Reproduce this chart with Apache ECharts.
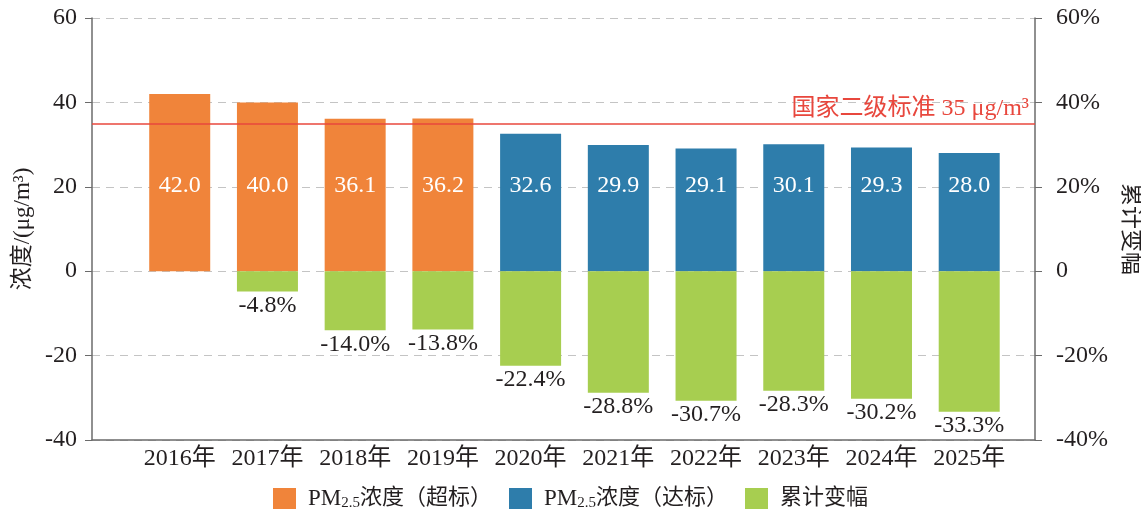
<!DOCTYPE html>
<html>
<head>
<meta charset="utf-8">
<script src="https://cdn.jsdelivr.net/npm/echarts@6/dist/echarts.min.js"></script>
<style>
  html, body { margin: 0; padding: 0; background: #fff; }
  #main { width: 1141px; height: 512px; }
</style>
</head>
<body>
<div id="main"></div>
<script>
// 年份与数据
var years = ['2016年', '2017年', '2018年', '2019年', '2020年', '2021年', '2022年', '2023年', '2024年', '2025年'];
var pm25 = [42.0, 40.0, 36.1, 36.2, 32.6, 29.9, 29.1, 30.1, 29.3, 28.0];
var change = [null, -4.8, -14.0, -13.8, -22.4, -28.8, -30.7, -28.3, -30.2, -33.3];
var standard = 35;
var leftTicks = [-40, 60, 20];   // min, max, interval
var rightTicks = [-40, 60, 20];

var FONT = "'Liberation Serif', 'Noto Sans CJK SC', serif";
var TEXT = '#231f20';
var AXIS = '#6b6b6b';

var myChart = echarts.init(document.getElementById('main'));

var overData = pm25.map(function (v, i) { return v > standard ? [i, v] : [i, null]; });
var okData = pm25.map(function (v, i) { return v > standard ? [i, null] : [i, v]; });
var changeData = change.map(function (v, i) { return [i, v]; });

var option = {
    animation: false,
    textStyle: { fontFamily: FONT },
    grid: { left: 92, right: 106, top: 18, bottom: 72, containLabel: false, outerBoundsMode: 'none' },
    legend: {
        left: 'center',
        top: 482,
        itemWidth: 23,
        itemHeight: 21,
        itemGap: 17,
        icon: 'rect',
        textStyle: {
            fontFamily: FONT, fontSize: 22, color: TEXT,
            rich: {
                a: { fontFamily: FONT, fontSize: 23, color: TEXT, padding: [0, 0, 0, 7] },
                s: { fontFamily: FONT, fontSize: 15, color: TEXT, padding: [10, 0, 0, 0] },
                c: { fontFamily: FONT, fontSize: 22, color: TEXT },
                d: { fontFamily: FONT, fontSize: 22, color: TEXT, padding: [0, 0, 0, 7] }
            }
        },
        formatter: function (name) {
            if (name.indexOf('PM2.5') === 0) {
                return '{a|PM}{s|2.5}{c|' + name.slice(5) + '}';
            }
            return '{d|' + name + '}';
        }
    },
    xAxis: {
        type: 'value',
        min: -1,
        max: 9.75,
        interval: 1,
        splitLine: { show: false },
        axisTick: { show: false },
        axisLine: { show: true, onZero: false, lineStyle: { color: AXIS, width: 1.5 } },
        axisLabel: {
            fontFamily: FONT, fontSize: 24, color: TEXT, margin: 7,
            showMinLabel: true, showMaxLabel: true,
            formatter: function (v) {
                var i = Math.round(v);
                return (Math.abs(v - i) < 1e-6 && i >= 0 && i < years.length) ? years[i] : '';
            }
        }
    },
    yAxis: [
        {
            type: 'value',
            min: leftTicks[0], max: leftTicks[1], interval: leftTicks[2],
            name: '浓度/(μg/m³)',
            nameLocation: 'middle',
            nameRotate: 90,
            nameGap: 56,
            nameTextStyle: { fontFamily: FONT, fontSize: 23, color: TEXT },
            axisLine: { show: true, onZero: false, lineStyle: { color: AXIS, width: 1.5 } },
            axisTick: { show: true, length: 7, lineStyle: { color: AXIS } },
            axisLabel: { fontFamily: FONT, fontSize: 24, color: TEXT, margin: 15 },
            splitLine: { show: true, lineStyle: { color: '#c4c4c4', type: [8, 6], width: 1.2 } }
        },
        {
            type: 'value',
            min: rightTicks[0], max: rightTicks[1], interval: rightTicks[2],
            name: '累计变幅',
            nameLocation: 'middle',
            nameRotate: -90,
            nameGap: 72,
            nameTextStyle: { fontFamily: FONT, fontSize: 23, color: TEXT },
            axisLine: { show: true, onZero: false, lineStyle: { color: AXIS, width: 1.5 } },
            axisTick: { show: true, length: 7, lineStyle: { color: AXIS } },
            axisLabel: {
                fontFamily: FONT, fontSize: 24, color: TEXT, margin: 21,
                formatter: function (v) { return v === 0 ? '0' : v + '%'; }
            },
            splitLine: { show: false }
        }
    ],
    series: [
        {
            name: 'PM2.5浓度（超标）',
            type: 'bar',
            yAxisIndex: 0,
            barWidth: 61,
            barGap: '-100%',
            data: overData,
            itemStyle: { color: '#f0843a' },
            label: {
                show: true, position: 'insideBottom', distance: 73,
                color: '#fff', fontFamily: FONT, fontSize: 24,
                formatter: function (p) { return p.value[1] == null ? '' : p.value[1].toFixed(1); }
            },
            markLine: {
                silent: true,
                symbol: ['none', 'none'],
                lineStyle: { color: '#e8473d', type: 'solid', width: 1.5 },
                label: {
                    position: 'insideEndTop',
                    color: '#e8473d', fontFamily: FONT, fontSize: 24, distance: [6, 3],
                    formatter: '国家二级标准 35 μg/m³'
                },
                data: [{ yAxis: standard }]
            }
        },
        {
            name: 'PM2.5浓度（达标）',
            type: 'bar',
            yAxisIndex: 0,
            barWidth: 61,
            barGap: '-100%',
            data: okData,
            itemStyle: { color: '#2e7dab' },
            label: {
                show: true, position: 'insideBottom', distance: 73,
                color: '#fff', fontFamily: FONT, fontSize: 24,
                formatter: function (p) { return p.value[1] == null ? '' : p.value[1].toFixed(1); }
            }
        },
        {
            name: '累计变幅',
            type: 'bar',
            yAxisIndex: 1,
            barWidth: 61,
            barGap: '-100%',
            data: changeData,
            itemStyle: { color: '#a7ce50' },
            label: {
                show: true, position: 'bottom', distance: 2,
                color: TEXT, fontFamily: FONT, fontSize: 24,
                formatter: function (p) { return p.value[1] == null ? '' : p.value[1].toFixed(1) + '%'; }
            }
        }
    ]
};

myChart.setOption(option);
</script>
</body>
</html>
